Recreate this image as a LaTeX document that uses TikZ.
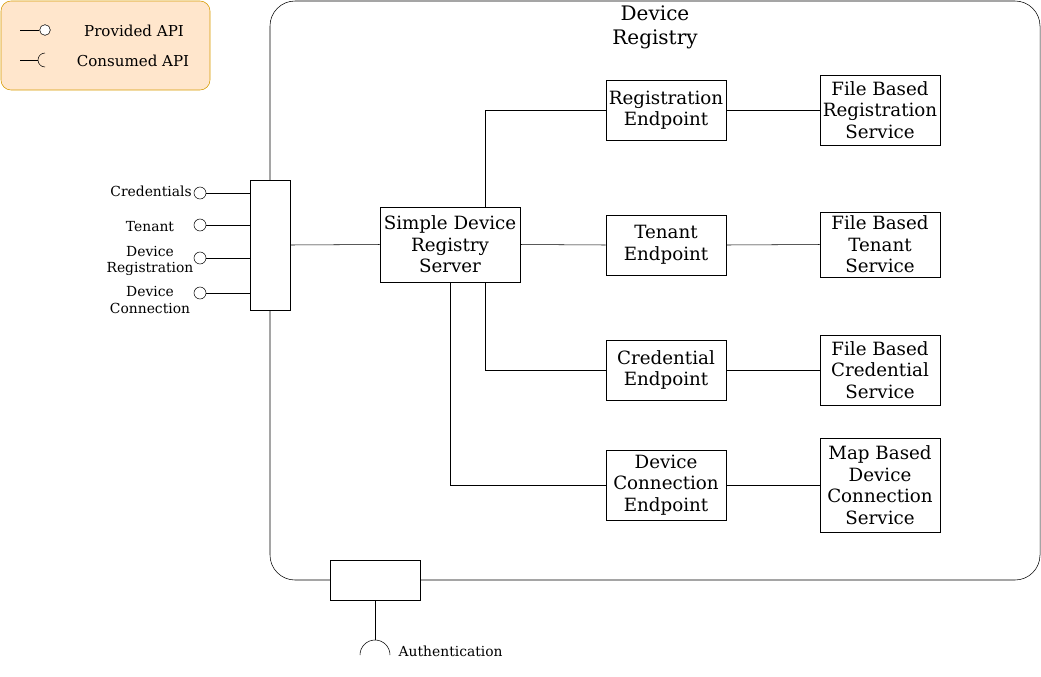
\documentclass[tikz,border=0pt]{standalone}
\usepackage{fontspec}
\setmainfont{DejaVu Serif}
\usetikzlibrary{positioning}
\definecolor{legendfill}{HTML}{FFE6CC}
\definecolor{legenddraw}{HTML}{D79B00}
\tikzset{
  box/.style={draw,fill=white,align=center,inner sep=1pt,font=\fontsize{13.7}{16.2}\selectfont},
  portbox/.style={draw,fill=white,inner sep=0pt},
  lollipop/.style={draw,circle,fill=white,minimum size=9pt,inner sep=0pt},
  apilabel/.style={align=center,font=\fontsize{10.4}{12.5}\selectfont}
}
\begin{document}
\begin{tikzpicture}[x=0.75pt,y=-0.75pt]
\useasboundingbox (0,0) rectangle (1041,676);
% legend
\draw[legenddraw,fill=legendfill,rounded corners=7.5pt] (1,1) rectangle (210,90);
\coordinate (provA) at (20,30);
\node[lollipop,minimum size=8pt] (provB) at (45,30) {};
\draw (provA) -- (provB.west);
\node[apilabel,font=\fontsize{11.3}{13}\selectfont] (provT) at (134,31) {Provided API};
\coordinate (consA) at (20,60);
\coordinate (consB) at (38,60);
\draw (consA) -- (consB);
\draw (45,53) arc (-90:-270:7);
\node[apilabel,font=\fontsize{11.3}{13}\selectfont] (consT) at (133,61) {Consumed API};
% component frame
\draw[rounded corners=18.75pt] (270,1) rectangle (1040,580);
\node[align=center,font=\fontsize{15}{18}\selectfont] (title) at (655,27) {Device\\Registry};
% boxes
\node[box,minimum width=105pt,minimum height=56.25pt] (server) at (450,244.5) {Simple Device\\Registry\\Server};
\node[box,minimum width=90pt,minimum height=45pt] (regep) at (666,110) {Registration\\Endpoint};
\node[box,minimum width=90pt,minimum height=45pt] (tenep) at (666,245) {Tenant\\Endpoint};
\node[box,minimum width=90pt,minimum height=45pt] (credep) at (666,370) {Credential\\Endpoint};
\node[box,minimum width=90pt,minimum height=52.5pt] (devep) at (666,485) {Device\\Connection\\Endpoint};
\node[box,minimum width=90pt,minimum height=52.5pt] (regsvc) at (880,110) {File Based\\Registration\\Service};
\node[box,minimum width=90pt,minimum height=48.75pt] (tensvc) at (880,244.5) {File Based\\Tenant\\Service};
\node[box,minimum width=90pt,minimum height=52.5pt] (credsvc) at (880,370) {File Based\\Credential\\Service};
\node[box,minimum width=90pt,minimum height=70.5pt] (devsvc) at (880,485) {Map Based\\Device\\Connection\\Service};
% ports
\node[portbox,minimum width=30pt,minimum height=97.5pt] (portl) at (270,245) {};
\node[portbox,minimum width=67.5pt,minimum height=30pt] (portb) at (375,580) {};
% provided interfaces
\node[lollipop] (credapi) at (200,193) {};
\node[lollipop] (tenapi) at (200,225) {};
\node[lollipop] (regapi) at (200,258) {};
\node[lollipop] (devapi) at (200,293) {};
\foreach \api in {credapi,tenapi,regapi,devapi}
  \draw (\api.east) -- (\api.east -| portl.west);
\node[apilabel,anchor=east,inner sep=0pt] at (192,191) {Credentials};
\node[apilabel] at (150,227) {Tenant};
\node[apilabel] at (150,261) {Device\\Registration};
\node[apilabel] at (150,300) {Device\\Connection};
% consumed interface
\coordinate (authtop) at (375,640);
\draw (portb.south) -- (authtop);
\draw (360,655) arc (-180:0:15);
\node[apilabel,anchor=west] (authT) at (394,651) {Authentication};
% connectors
\draw (portl.east) -- (server.west);
\draw ([xshift=26.25pt]server.north) |- (regep.west);
\draw (server.east) -- (tenep.west);
\draw ([xshift=26.25pt]server.south) |- (credep.west);
\draw (server.south) |- (devep.west);
\draw (regep.east) -- (regsvc.west);
\draw (tenep.east) -- (tensvc.west);
\draw (credep.east) -- (credsvc.west);
\draw (devep.east) -- (devsvc.west);
\end{tikzpicture}
\end{document}
